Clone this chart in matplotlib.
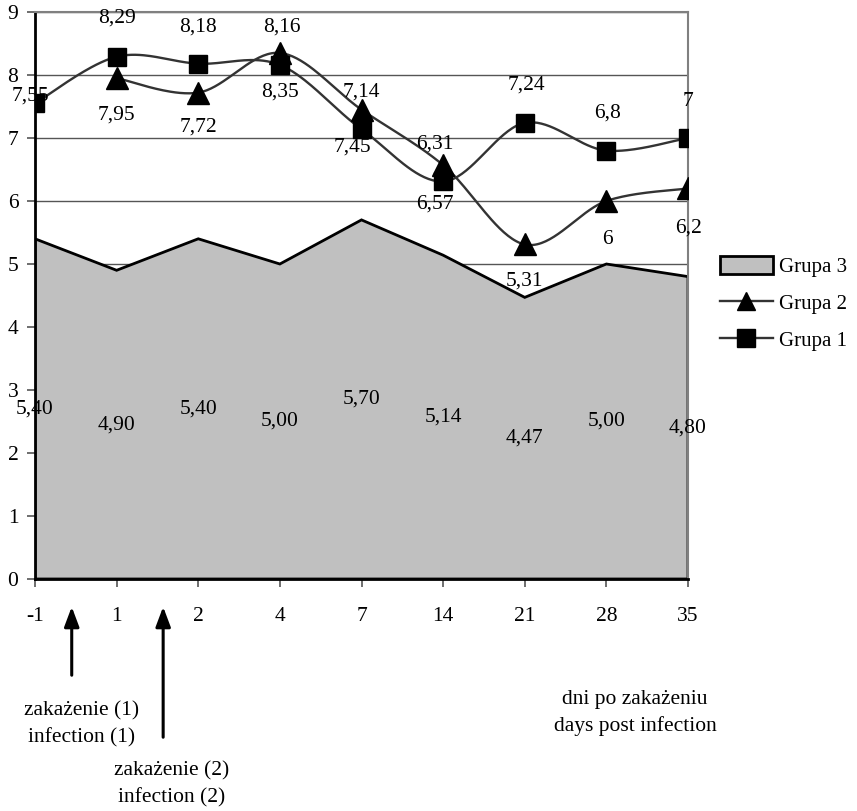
import numpy as np
import matplotlib.pyplot as plt
from matplotlib.patches import Patch
from matplotlib.lines import Line2D

plt.rcParams['font.family'] = ['Liberation Serif', 'DejaVu Serif']

# days post infection and values for the three groups
days = ["-1", "1", "2", "4", "7", "14", "21", "28", "35"]
grupa1 = [7.55, 8.29, 8.18, 8.16, 7.14, 6.31, 7.24, 6.8, 7.0]
grupa2 = [np.nan, 7.95, 7.72, 8.35, 7.45, 6.57, 5.31, 6.0, 6.2]
grupa3 = [5.40, 4.90, 5.40, 5.00, 5.70, 5.14, 4.47, 5.00, 4.80]

# label offsets in pixels (dx, dy)
off1 = [(-5, 7), (0, 39), (0, 37), (2, 38), (0, 37), (-8, 37), (2, 38), (1, 38), (0, 37)]
off2 = [None, (0, -37), (0, -34), (0, -39), (-9, -37), (-8, -39), (0, -37), (1, -39), (0, -40)]

FS = 15.5


def smooth(x, y, n=40):
    # bezier smoothing through the points, control points at 1/6 of the neighbour chord
    pts = np.column_stack([x, y])
    out = []
    for i in range(len(pts) - 1):
        p0 = pts[max(i - 1, 0)]
        p1 = pts[i]
        p2 = pts[i + 1]
        p3 = pts[min(i + 2, len(pts) - 1)]
        c1 = p1 + (p2 - p0) / 6
        c2 = p2 - (p3 - p1) / 6
        t = np.linspace(0, 1, n)[:, None]
        seg = (1 - t)**3 * p1 + 3 * (1 - t)**2 * t * c1 + 3 * (1 - t) * t**2 * c2 + t**3 * p2
        out.append(seg if i == 0 else seg[1:])
    return np.vstack(out)


def fmt(v):
    return ('%g' % v).replace('.', ',')


W, H = 857, 811
fig = plt.figure(figsize=(W / 100, H / 100), dpi=100)
ax = fig.add_axes([35 / W, (H - 579) / H, (688 - 35) / W, (579 - 12) / H])

x = np.arange(len(days))
y1 = np.array(grupa1)
y2 = np.array(grupa2)
y3 = np.array(grupa3)

# area for group 3
poly_x = np.concatenate([[x[0]], x, [x[-1]]])
poly_y = np.concatenate([[0], y3, [0]])
ax.fill(poly_x, poly_y, facecolor='#c0c0c0', edgecolor='black', lw=2, zorder=2)

# smoothed lines for groups 1 and 2
ok2 = ~np.isnan(y2)
s1 = smooth(x, y1)
s2 = smooth(x[ok2], y2[ok2])
ax.plot(s1[:, 0], s1[:, 1], color='#333333', lw=1.7, zorder=3)
ax.plot(s2[:, 0], s2[:, 1], color='#333333', lw=1.7, zorder=3)
ax.plot(x[ok2], y2[ok2], ls='none', marker='^', ms=16, color='black', zorder=4)
ax.plot(x, y1, ls='none', marker='s', ms=13.5, color='black', zorder=5)

# value labels
for i, v in enumerate(grupa1):
    ax.annotate(fmt(v), (x[i], v), xytext=off1[i], textcoords='offset pixels',
                ha='center', va='center', fontsize=FS, zorder=6)
for i, v in enumerate(grupa2):
    if off2[i] is None:
        continue
    ax.annotate(fmt(v), (x[i], v), xytext=off2[i], textcoords='offset pixels',
                ha='center', va='center', fontsize=FS, zorder=6)
for i, v in enumerate(grupa3):
    ax.text(x[i], v / 2, ('%.2f' % v).replace('.', ','), ha='center', va='center',
            fontsize=FS, zorder=6)

ax.set_xlim(0, len(days) - 1)
ax.set_ylim(0, 9)
ax.set_xticks(x)
ax.set_xticklabels(days)
ax.set_yticks(range(10))
ax.yaxis.grid(True, color='#555555', lw=1)
ax.set_axisbelow(True)
ax.tick_params(axis='both', labelsize=FS, direction='out', length=6, width=1.2, color='#555555')
ax.tick_params(axis='x', pad=14)
ax.tick_params(axis='y', pad=6)
for side in ['top', 'right']:
    ax.spines[side].set_color('#808080')
    ax.spines[side].set_linewidth(1.5)
for side in ['left', 'bottom']:
    ax.spines[side].set_color('black')
    ax.spines[side].set_linewidth(2)

# legend
handles = [
    Patch(facecolor='#c0c0c0', edgecolor='black', lw=2),
    Line2D([], [], color='#333333', lw=1.7, marker='^', ms=13, mfc='black', mec='black'),
    Line2D([], [], color='#333333', lw=1.7, marker='s', ms=12.5, mfc='black', mec='black'),
]
fig.legend(handles, ['Grupa 3', 'Grupa 2', 'Grupa 1'], loc='upper left',
           bbox_to_anchor=(710 / W, (H - 246) / H), frameon=False, fontsize=15,
           handlelength=2.5, handleheight=0.9, handletextpad=0.3, labelspacing=0.78,
           borderpad=0)

# infection arrows below the axis
for xa, ytail in [(0.45, 678), (1.57, 740)]:
    ax.annotate('', xy=(xa, H - 604), xycoords=('data', 'figure pixels'),
                xytext=(xa, H - ytail), textcoords=('data', 'figure pixels'),
                arrowprops=dict(arrowstyle='-|>,head_length=1.2,head_width=0.45',
                                color='black', lw=2.2))

fig.text(82 / W, 1 - 724 / H, 'zakażenie (1)\ninfection (1)', ha='center', va='center',
         fontsize=FS, linespacing=1.53)
fig.text(172 / W, 1 - 784 / H, 'zakażenie (2)\ninfection (2)', ha='center', va='center',
         fontsize=FS, linespacing=1.53)
fig.text(635 / W, 1 - 713 / H, 'dni po zakażeniu\ndays post infection', ha='center',
         va='center', fontsize=FS, linespacing=1.53)

fig.savefig('out.png', dpi=100)
